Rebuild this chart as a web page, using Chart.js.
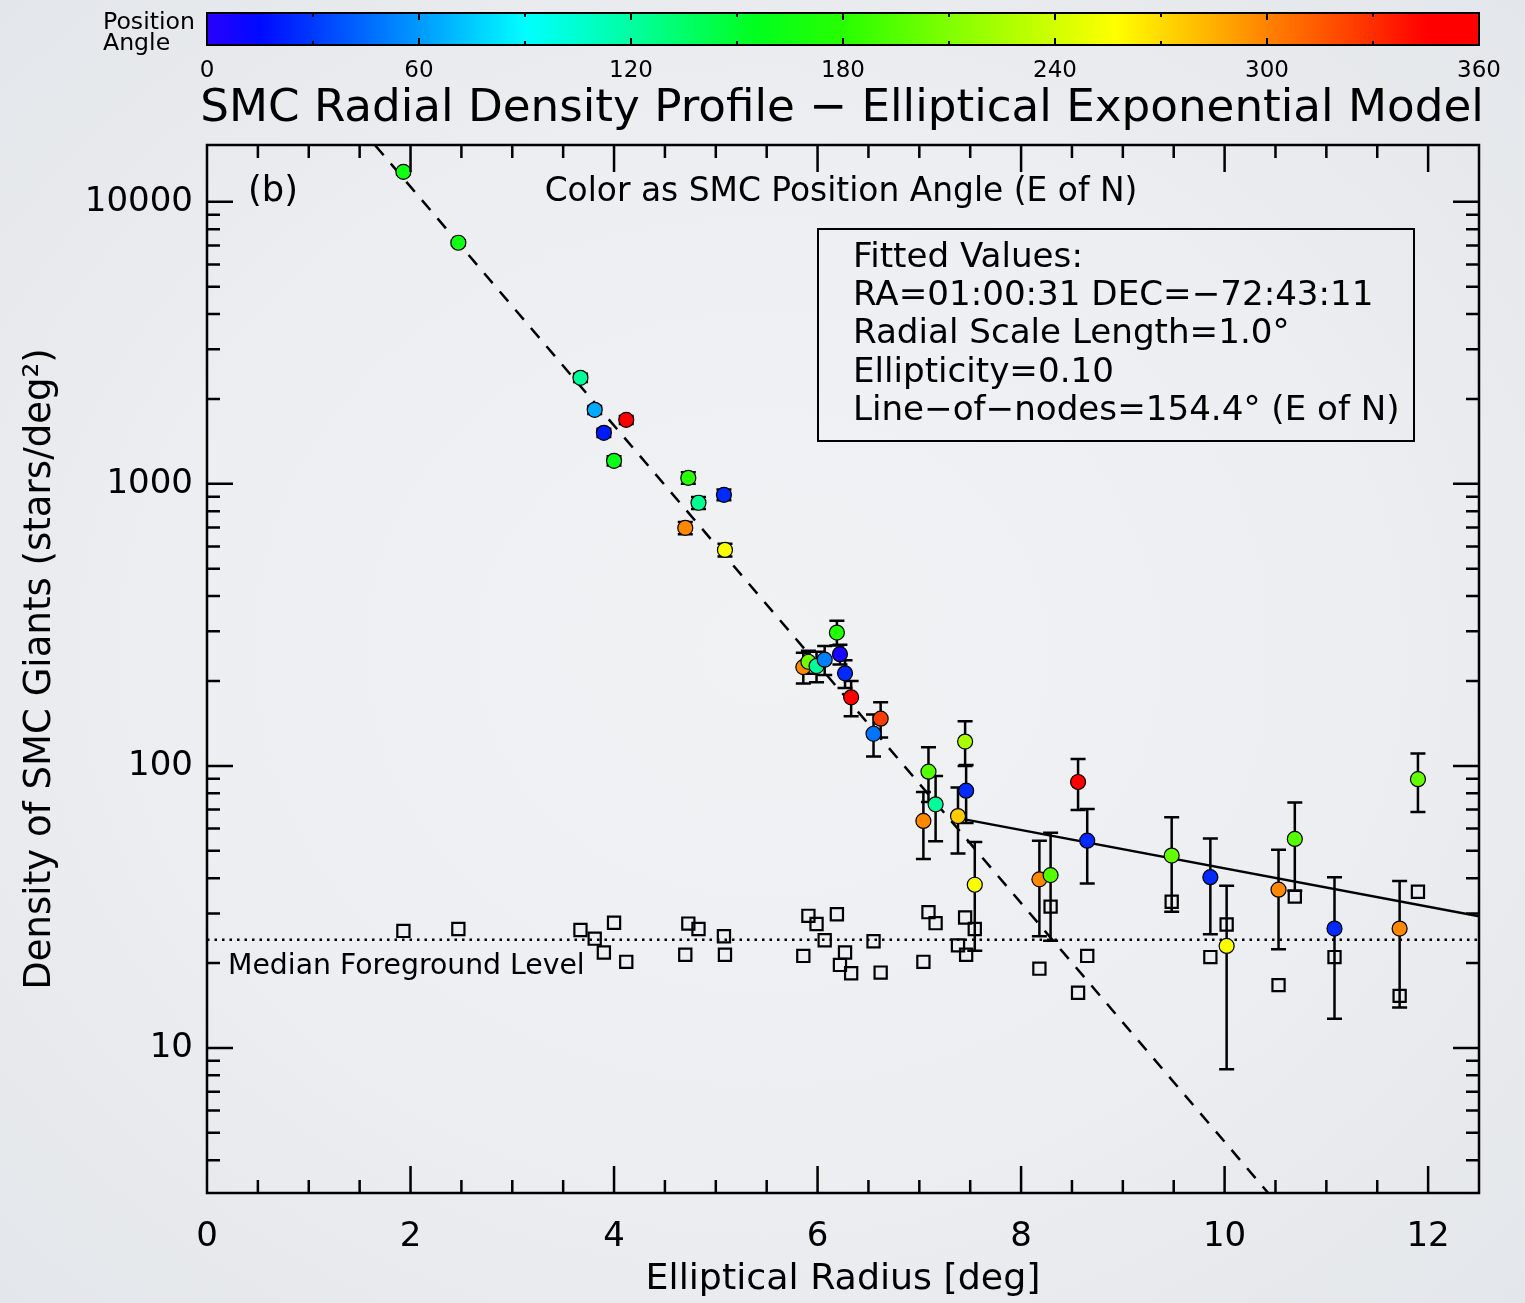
<!DOCTYPE html>
<html>
<head>
<meta charset="utf-8">
<title>SMC Radial Density Profile</title>
<script src="https://cdn.jsdelivr.net/npm/chart.js@4.4.1/dist/chart.umd.min.js"></script>
<style>
  html, body { margin: 0; padding: 0; }
  body {
    width: 1525px; height: 1303px; overflow: hidden;
    background: radial-gradient(ellipse at 50% 50%, #f1f2f4 0%, #eceef1 55%, #e3e6ea 100%);
  }
  #c { display: block; }
</style>
</head>
<body>
<canvas id="c" width="1525" height="1303"></canvas>
<script>
// ---- Data -----------------------------------------------------------------
// Elliptical radius of each field (deg)
const radius = [1.93, 2.47, 3.67, 3.81, 3.90, 4.00, 4.12, 4.70, 4.73, 4.83, 5.08, 5.09,
  5.86, 5.91, 5.99, 6.07, 6.19, 6.22, 6.27, 6.33, 6.55, 6.62,
  7.04, 7.09, 7.16, 7.38, 7.45, 7.46, 7.545, 8.18, 8.29, 8.56, 8.65,
  9.48, 9.86, 10.02, 10.53, 10.69, 11.08, 11.72, 11.90];
// Background-subtracted density of SMC giants (stars/deg^2)
const density = [12770, 7160, 2377, 1830, 1517, 1207, 1686, 698, 1050, 857, 914, 583,
  224, 234, 226, 238, 297, 249, 213, 175, 130, 147,
  63.8, 95.4, 73.1, 66.4, 122, 81.7, 37.9, 39.6, 41.0, 87.7, 54.3,
  48.1, 40.3, 23.0, 36.4, 55.1, 26.5, 26.5, 89.7];
// 1-sigma uncertainty on the density
const densityErr = [250, 150, 80, 60, 50, 45, 55, 35, 50, 42, 40, 30,
  28, 22, 28, 28, 30, 20, 24, 25, 22, 21,
  17, 21, 19, 17.5, 22, 19, 15.8, 14.7, 17, 18, 16,
  17.7, 15, 14.6, 14, 19, 13.8, 12.6, 21];
// Position angle of each field (deg, E of N)
const posAngle = [165, 165, 122, 65, 20, 160, 352, 298, 180, 124, 25, 255,
  298, 205, 122, 52, 175, 6, 25, 352, 48, 325,
  298, 195, 122, 275, 225, 25, 255, 298, 195, 352, 25,
  200, 25, 255, 298, 195, 25, 298, 200];
// Foreground (field star) density in each field
const foreground = [26.0, 26.4, 26.2, 24.4, 21.8, 27.8, 20.2, 21.4, 27.6, 26.4, 24.9, 21.4,
  21.2, 29.4, 27.5, 24.1, 29.8, 19.7, 21.8, 18.4, 23.9, 18.5,
  20.2, 30.3, 27.7, 23.1, 29.0, 21.4, 26.4, 19.1, 31.7, 15.7, 21.2,
  33.0, 21.0, 27.4, 16.7, 34.4, 21.0, 15.3, 35.8];

// Exponential model (dashed) and outer halo fit (solid), as end points
const innerFitR = [1.5, 10.6];
const innerFitDensity = [18400, 2.59];
const haloFitR = [7.38, 12.5];
const haloFitDensity = [65.3, 29.3];
const medianR = [0, 12.5];
const medianForeground = [24.2, 24.2];

// Tick labels
const radiusTicks = [0, 2, 4, 6, 8, 10, 12];
const densityTicks = [10, 100, 1000, 10000];
const angleTicks = [0, 60, 120, 180, 240, 300, 360];

// Fit summary text
const fitLines = [
  'Fitted Values:',
  'RA=01:00:31 DEC=\u221272:43:11',
  'Radial Scale Length=1.0\u00b0',
  'Ellipticity=0.10',
  'Line\u2212of\u2212nodes=154.4\u00b0 (E of N)'
];

// ---- Styling helpers ------------------------------------------------------
const FONT = "'DejaVu Sans', 'Noto Sans', sans-serif";

// Rainbow colour table for position angle
const paletteStops = [
  [0, [40, 0, 255]], [15, [0, 10, 255]], [40, [0, 90, 255]], [65, [0, 170, 255]],
  [90, [0, 255, 255]], [120, [0, 255, 160]], [155, [0, 255, 30]], [180, [40, 255, 0]],
  [210, [128, 255, 0]], [240, [210, 255, 0]], [257, [255, 255, 0]], [280, [255, 190, 0]],
  [300, [255, 130, 0]], [325, [255, 60, 0]], [345, [255, 0, 0]], [360, [255, 0, 0]]
];
function angleColor(pa) {
  for (let i = 1; i < paletteStops.length; i++) {
    const [a1, c1] = paletteStops[i];
    const [a0, c0] = paletteStops[i - 1];
    if (pa <= a1) {
      const t = (pa - a0) / (a1 - a0);
      const c = c0.map((v, k) => Math.round(v + (c1[k] - v) * t));
      return `rgb(${c[0]},${c[1]},${c[2]})`;
    }
  }
  return 'rgb(255,0,0)';
}

const measureCtx = document.createElement('canvas').getContext('2d');
function fitSize(text, width) {
  measureCtx.font = `100px ${FONT}`;
  return 100 * width / measureCtx.measureText(text).width;
}

const yTitle = 'Density of SMC Giants (stars/deg\u00b2)';
const xTitle = 'Elliptical Radius [deg]';
const yTitleSize = fitSize(yTitle, 642);
const xTitleSize = fitSize(xTitle, 395);

// ---- Plugins --------------------------------------------------------------
const errorBars = {
  id: 'errorBars',
  beforeDatasetDraw(chart, args) {
    if (args.index !== 1) return;
    const { ctx, chartArea: a, scales: { x, y } } = chart;
    ctx.save();
    ctx.beginPath();
    ctx.rect(a.left, a.top, a.right - a.left, a.bottom - a.top);
    ctx.clip();
    ctx.strokeStyle = '#000';
    ctx.lineWidth = 2.5;
    radius.forEach((r, i) => {
      const px = x.getPixelForValue(r);
      const top = y.getPixelForValue(density[i] + densityErr[i]);
      const bot = y.getPixelForValue(density[i] - densityErr[i]);
      ctx.beginPath();
      ctx.moveTo(px, top); ctx.lineTo(px, bot);
      ctx.moveTo(px - 7.5, top); ctx.lineTo(px + 7.5, top);
      ctx.moveTo(px - 7.5, bot); ctx.lineTo(px + 7.5, bot);
      ctx.stroke();
    });
    ctx.restore();
  }
};

const frameAndText = {
  id: 'frameAndText',
  afterDraw(chart) {
    const { ctx, chartArea: a, scales: { x, y } } = chart;
    ctx.save();
    ctx.strokeStyle = '#000';
    ctx.fillStyle = '#000';

    // Frame
    ctx.lineWidth = 2.5;
    ctx.strokeRect(a.left, a.top, a.right - a.left, a.bottom - a.top);

    // Inward ticks on all four sides
    ctx.lineWidth = 2.5;
    ctx.beginPath();
    for (let v = 0.5; v < x.max; v += 0.5) {
      const px = x.getPixelForValue(v);
      const len = (v % 2 === 0) ? 27 : 13;
      ctx.moveTo(px, a.bottom); ctx.lineTo(px, a.bottom - len);
      ctx.moveTo(px, a.top); ctx.lineTo(px, a.top + len);
    }
    for (let d = 0; d <= 5; d++) {
      for (let m = 1; m <= 9; m++) {
        const v = m * Math.pow(10, d);
        if (v <= y.min || v >= y.max) continue;
        const py = y.getPixelForValue(v);
        const len = m === 1 ? 26 : 13;
        ctx.moveTo(a.left, py); ctx.lineTo(a.left + len, py);
        ctx.moveTo(a.right, py); ctx.lineTo(a.right - len, py);
      }
    }
    ctx.stroke();

    // Text inside the plot
    ctx.textBaseline = 'middle';
    ctx.textAlign = 'left';
    ctx.font = `${fitSize('(b)', 50)}px ${FONT}`;
    ctx.fillText('(b)', 248, 192);

    const sub = 'Color as SMC Position Angle (E of N)';
    ctx.textAlign = 'center';
    ctx.font = `${fitSize(sub, 593)}px ${FONT}`;
    ctx.fillText(sub, 841, 192);

    ctx.textAlign = 'left';
    const med = 'Median Foreground Level';
    ctx.font = `${fitSize(med, 357)}px ${FONT}`;
    ctx.fillText(med, 228, 967);

    // Fit summary box
    ctx.lineWidth = 2;
    ctx.strokeRect(818, 229, 596, 212);
    ctx.fillStyle = '#000';
    ctx.font = `${fitSize(fitLines[4], 547)}px ${FONT}`;
    fitLines.forEach((t, i) => ctx.fillText(t, 853, 258 + i * 38.3));

    // Main title
    const title = 'SMC Radial Density Profile \u2212 Elliptical Exponential Model';
    ctx.textAlign = 'center';
    ctx.font = `${fitSize(title, 1284)}px ${FONT}`;
    ctx.fillText(title, 842, 109);

    // Position-angle colour bar
    const bx0 = a.left, bx1 = a.right, by0 = 13, by1 = 45;
    for (let px = bx0; px < bx1; px++) {
      ctx.fillStyle = angleColor((px - bx0) / (bx1 - bx0) * 360);
      ctx.fillRect(px, by0, 1.5, by1 - by0);
    }
    ctx.lineWidth = 2;
    ctx.strokeStyle = '#000';
    ctx.strokeRect(bx0, by0, bx1 - bx0, by1 - by0);
    ctx.beginPath();
    for (let pa = 30; pa < 360; pa += 30) {
      const px = bx0 + pa / 360 * (bx1 - bx0);
      const len = pa % 60 === 0 ? 7 : 4;
      ctx.moveTo(px, by0); ctx.lineTo(px, by0 + len);
      ctx.moveTo(px, by1); ctx.lineTo(px, by1 - len);
    }
    ctx.stroke();
    ctx.fillStyle = '#000';
    ctx.font = `23px ${FONT}`;
    ctx.textAlign = 'center';
    angleTicks.forEach(pa => {
      ctx.fillText(String(pa), bx0 + pa / 360 * (bx1 - bx0), 71);
    });
    ctx.textAlign = 'left';
    ctx.font = `${fitSize('Position', 92)}px ${FONT}`;
    ctx.fillText('Position', 103, 23);
    ctx.fillText('Angle', 103, 44);

    ctx.restore();
  }
};

// ---- Chart ----------------------------------------------------------------
const pts = (xs, ys) => xs.map((v, i) => ({ x: v, y: ys[i] }));

new Chart(document.getElementById('c'), {
  type: 'scatter',
  data: {
    datasets: [
      {
        label: 'Foreground',
        data: pts(radius, foreground),
        pointStyle: 'rect',
        pointRadius: 8.6,
        backgroundColor: 'rgba(0,0,0,0)',
        borderColor: '#000',
        borderWidth: 2.2,
        order: 3
      },
      {
        label: 'SMC giants',
        data: pts(radius, density),
        pointStyle: 'circle',
        pointRadius: 7.5,
        backgroundColor: posAngle.map(angleColor),
        borderColor: '#000',
        borderWidth: 1.2,
        order: 1
      },
      {
        label: 'Exponential model',
        data: pts(innerFitR, innerFitDensity),
        showLine: true,
        borderColor: '#000',
        borderWidth: 2.5,
        borderDash: [13, 11],
        pointRadius: 0,
        order: 4
      },
      {
        label: 'Outer fit',
        data: pts(haloFitR, haloFitDensity),
        showLine: true,
        borderColor: '#000',
        borderWidth: 2.5,
        pointRadius: 0,
        order: 4
      },
      {
        label: 'Median foreground',
        data: pts(medianR, medianForeground),
        showLine: true,
        borderColor: '#000',
        borderWidth: 2.5,
        borderDash: [2.5, 5],
        pointRadius: 0,
        order: 5
      }
    ]
  },
  options: {
    responsive: false,
    animation: false,
    events: [],
    layout: { padding: { top: 145, right: 46, left: 0, bottom: 0 } },
    plugins: { legend: { display: false }, tooltip: { enabled: false } },
    scales: {
      x: {
        type: 'linear',
        min: 0, max: 12.5,
        afterFit(s) { s.height = 110; },
        grid: { display: false, drawTicks: false },
        border: { display: false },
        ticks: {
          stepSize: 2,
          includeBounds: false,
          autoSkip: false,
          maxRotation: 0,
          padding: 24,
          color: '#000',
          font: { family: FONT, size: 34 },
          callback: v => radiusTicks.includes(v) ? String(v) : ''
        },
        title: {
          display: true,
          text: xTitle,
          color: '#000',
          font: { family: FONT, size: xTitleSize, lineHeight: 1.2 },
          padding: { top: 0, bottom: 23 - xTitleSize * 0.6 }
        }
      },
      y: {
        type: 'logarithmic',
        min: 3.06, max: 15900,
        afterFit(s) { s.width = 207; },
        grid: { display: false, drawTicks: false },
        border: { display: false },
        ticks: {
          autoSkip: false,
          padding: 14,
          color: '#000',
          font: { family: FONT, size: 34 },
          callback: v => densityTicks.includes(v) ? String(v) : ''
        },
        title: {
          display: true,
          text: yTitle,
          color: '#000',
          font: { family: FONT, size: yTitleSize, lineHeight: 1.2 },
          padding: { top: 40 - yTitleSize * 0.6, bottom: 0 }
        }
      }
    }
  },
  plugins: [errorBars, frameAndText]
});
</script>
</body>
</html>
